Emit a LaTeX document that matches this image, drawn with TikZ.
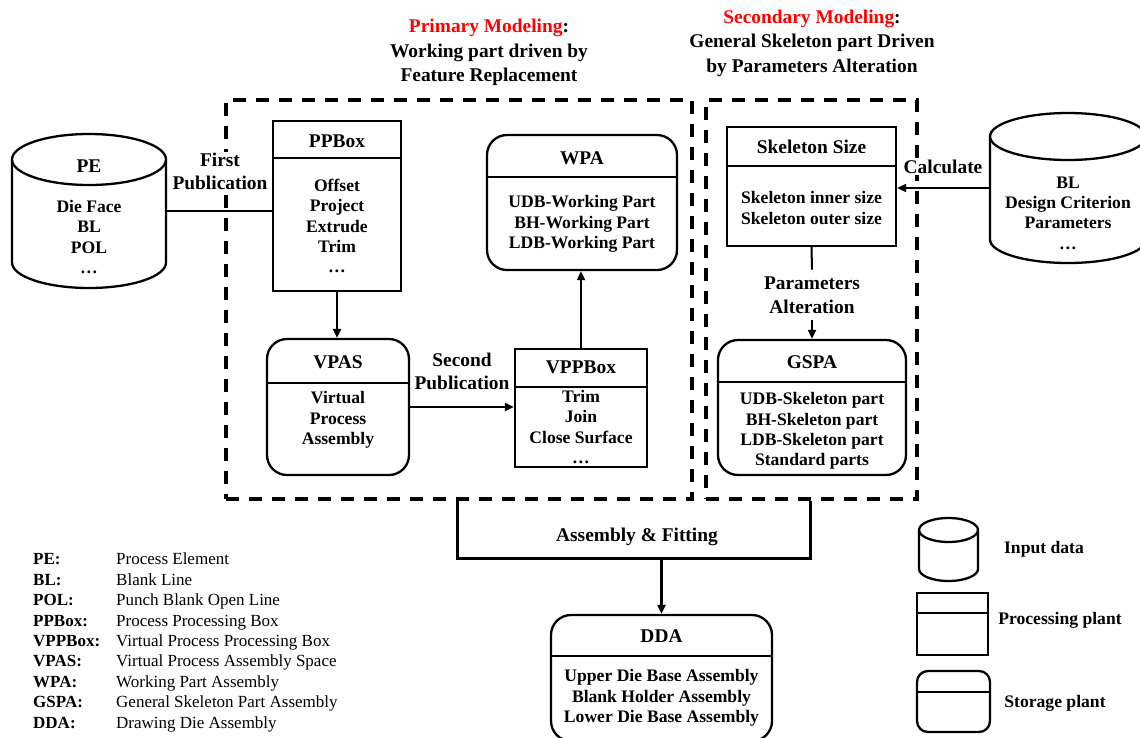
\documentclass[tikz,border=0pt]{standalone}
\usepackage{fontspec}
\setmainfont{Liberation Serif}
\usepackage{xcolor}
\usetikzlibrary{arrows.meta}

\tikzset{
  plant/.style={draw, line width=2.3pt, inner sep=0pt},
  storage/.style={plant, rounded corners=20pt},
  zone/.style={draw, line width=3.2pt, dash pattern=on 13pt off 10pt, inner sep=0pt},
  head/.style={font=\fontsize{19.4}{24.5}\selectfont\bfseries, align=center},
  ttl/.style={font=\fontsize{19.4}{22}\selectfont\bfseries, inner sep=0pt},
  body/.style={font=\fontsize{17.6}{20.4}\selectfont\bfseries, align=center, inner sep=0pt},
  lbl/.style={font=\fontsize{19.4}{23.5}\selectfont\bfseries, align=center, fill=white, inner sep=1pt},
  legtxt/.style={font=\fontsize{17}{20.4}\selectfont, inner sep=0pt},
  link/.style={line width=2pt},
  flow/.style={link, -{Triangle[length=9pt,width=8pt]}},
  rim/.style={line width=2.3pt},
}

\begin{document}
\begin{tikzpicture}[x=1pt,y=-1pt]
		\useasboundingbox (0,0) rectangle (1140,737);
		% headers
		\node[head] (primhead) at (489,52.7) {\textcolor{red}{Primary Modeling}:\\Working part driven by\\Feature Replacement};
		\node[head] (sechead) at (812,43.3) {\textcolor{red}{Secondary Modeling}:\\General Skeleton part Driven\\by Parameters Alteration};
		% dashed zones
		\node[zone, minimum width=466, minimum height=399] (prim) at (459,299.5) {};
		\node[zone, minimum width=211, minimum height=399] (sec) at (811.5,299.5) {};
		% PE input data
		\node[minimum width=154, minimum height=154, inner sep=0pt] (pe) at (89,211) {};
		\draw[rim] (89,159.5) ellipse [x radius=77pt, y radius=25.5pt];
		\draw[rim] (12,159.5) -- (12,262.5) arc[start angle=180, end angle=360, x radius=77pt, y radius=25.5pt] -- (166,159.5);
		\node[ttl] (pettl) at (89,166) {PE};
		\node[body] (pebody) at (89,237) {Die Face\\BL\\POL\\\dots};
		% PPBox
		\node[plant, minimum width=128, minimum height=170] (ppbox) at (337,206) {};
		\draw[rim] (ppbox.west |- 0,158) -- (ppbox.east |- 0,158);
		\node[ttl] (ppboxttl) at (337,141) {PPBox};
		\node[body] (ppboxbody) at (337,226) {Offset\\Project\\Extrude\\Trim\\\dots};
		% VPAS
		\node[storage, minimum width=142, minimum height=136] (vpas) at (338,407) {};
		\draw[rim] (vpas.west |- 0,383) -- (vpas.east |- 0,383);
		\node[ttl] (vpasttl) at (338,362) {VPAS};
		\node[body] (vpasbody) at (338,420) {Virtual\\Process\\Assembly};
		% VPPBox
		\node[plant, minimum width=132, minimum height=118] (vppbox) at (581,408) {};
		\draw[rim] (vppbox.west |- 0,387) -- (vppbox.east |- 0,387);
		\node[ttl] (vppboxttl) at (581,367) {VPPBox};
		\node[body] (vppboxbody) at (581,427) {Trim\\Join\\Close Surface\\\dots};
		% WPA
		\node[storage, minimum width=190, minimum height=135] (wpa) at (582,202.5) {};
		\draw[rim] (wpa.west |- 0,177) -- (wpa.east |- 0,177);
		\node[ttl] (wpattl) at (582,158) {WPA};
		\node[body] (wpabody) at (582,224) {UDB-Working Part\\BH-Working Part\\LDB-Working Part};
		% Skeleton Size
		\node[plant, minimum width=169, minimum height=119] (skel) at (811.5,186.5) {};
		\draw[rim] (skel.west |- 0,166) -- (skel.east |- 0,166);
		\node[ttl] (skelttl) at (811.5,147) {Skeleton Size};
		\node[body] (skelbody) at (811.5,208) {Skeleton inner size\\Skeleton outer size};
		% GSPA
		\node[storage, minimum width=188, minimum height=135] (gspa) at (812,407.5) {};
		\draw[rim] (gspa.west |- 0,382) -- (gspa.east |- 0,382);
		\node[ttl] (gspattl) at (812,362) {GSPA};
		\node[body] (gspabody) at (812,431) {UDB-Skeleton part\\BH-Skeleton part\\LDB-Skeleton part\\Standard parts};
		% BL input data
		\node[minimum width=156, minimum height=150, inner sep=0pt] (bld) at (1068,188) {};
		\draw[rim] (1068,136.5) ellipse [x radius=78pt, y radius=23.5pt];
		\draw[rim] (990,136.5) -- (990,239.5) arc[start angle=180, end angle=360, x radius=78pt, y radius=23.5pt] -- (1146,136.5);
		\node[body] (bldbody) at (1068,213) {BL\\Design Criterion\\Parameters\\\dots};
		% DDA
		\node[storage, minimum width=221, minimum height=126] (dda) at (661.5,678) {};
		\draw[rim] (dda.west |- 0,656) -- (dda.east |- 0,656);
		\node[ttl] (ddattl) at (661.5,636) {DDA};
		\node[body] (ddabody) at (661.5,698) {Upper Die Base Assembly\\Blank Holder Assembly\\Lower Die Base Assembly};
		% connectors
		\node[lbl] (firstpub) at (220,171.5) {First\\Publication};
		\draw[link] (pe.east) -- (pe.east -| ppbox.west);
		\draw[flow] (ppbox.south) -- (ppbox.south |- vpas.north);
		\node[lbl] (secondpub) at (462,371.5) {Second\\Publication};
		\draw[flow] (vpas.east) -- (vpas.east -| vppbox.west);
		\draw[flow] (vppbox.north) -- (vppbox.north |- wpa.south);
		\node[lbl] (calc) at (943,167) {Calculate};
		\draw[flow] (bld.west) -- (bld.west -| skel.east);
		\node[lbl, inner sep=7pt] (paralt) at (812,295) {Parameters\\Alteration};
		\draw[link] (skel.south) -- (paralt.north);
		\draw[flow] (paralt.south) -- (gspa.north);
		% assembly bracket
		\coordinate (asmL) at (457,558);
		\coordinate (asmR) at (810,558);
		\draw[line width=3pt] (prim.south -| asmL) -- (asmL) -- (asmR) -- (sec.south -| asmR);
		\node[lbl] (asmfit) at (637,537) {Assembly \& Fitting};
		\draw[flow, line width=2.5pt] (asmL -| dda.north) -- (dda.north);
		% abbreviation list
		\node[legtxt, anchor=west] (abbr) at (33,642.5) {%
			\begin{tabular}{@{}p{83pt}@{}l@{}}
			\textbf{PE:} & Process Element\\
			\textbf{BL:} & Blank Line\\
			\textbf{POL:} & Punch Blank Open Line\\
			\textbf{PPBox:} & Process Processing Box\\
			\textbf{VPPBox:} & Virtual Process Processing Box\\
			\textbf{VPAS:} & Virtual Process Assembly Space\\
			\textbf{WPA:} & Working Part Assembly\\
			\textbf{GSPA:} & General Skeleton Part Assembly\\
			\textbf{DDA:} & Drawing Die Assembly
			\end{tabular}};
		% symbol key
		\node[minimum width=59, minimum height=63, inner sep=0pt] (keycyl) at (948.5,549.5) {};
		\draw[rim] (948.5,530) ellipse [x radius=29.5pt, y radius=12pt];
		\draw[rim] (919,530) -- (919,569) arc[start angle=180, end angle=360, x radius=29.5pt, y radius=12pt] -- (978,530);
		\node[body] (keycyltxt) at (1044,549) {Input data};
		\node[plant, minimum width=71, minimum height=62] (keyproc) at (952.5,624) {};
		\draw[rim] (keyproc.west |- 0,613) -- (keyproc.east |- 0,613);
		\node[body] (keyproctxt) at (1060,620) {Processing plant};
		\node[storage, rounded corners=11pt, minimum width=73, minimum height=61] (keystore) at (953.5,701.5) {};
		\draw[rim] (keystore.west |- 0,692) -- (keystore.east |- 0,692);
		\node[body] (keystoretxt) at (1055,703) {Storage plant};
		\end{tikzpicture}
\end{document}
